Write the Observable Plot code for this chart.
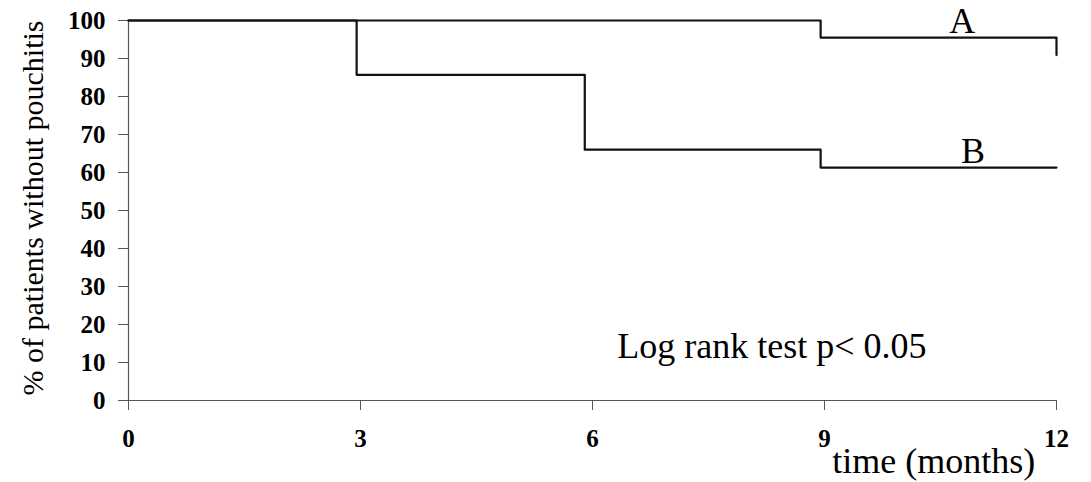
<!DOCTYPE html>
<html>
<head>
<meta charset="utf-8">
<script src="https://cdn.jsdelivr.net/npm/d3@7"></script>
<script src="https://cdn.jsdelivr.net/npm/@observablehq/plot@0.6"></script>
<style>
  html, body { margin: 0; padding: 0; background: #fff; }
  #chart svg { display: block; }
  #chart svg, #chart svg text { font-family: "Liberation Serif", "Times New Roman", serif !important; }
</style>
</head>
<body>
<div id="chart"></div>
<script>
// Kaplan–Meier curves: proportion of patients without pouchitis over 12 months
const timeA = [0, 8.95, 12, 12];
const survA = [100, 95.5, 95.5, 90.9];
const timeB = [0, 2.95, 5.9, 8.95, 12];
const survB = [100, 85.7, 66, 61.3, 61.3];

const xTicks = [0, 3, 6, 9, 12];
const yTicks = [0, 10, 20, 30, 40, 50, 60, 70, 80, 90, 100];

const groupLabels = ["A", "B"];
const yTitle = "% of patients without pouchitis";
const xTitle = "time (months)";
const testNote = "Log rank test p< 0.05";

const rows = (ts, ss) => ts.map((t, i) => ({t, s: ss[i]}));
const serif = "Liberation Serif";

const chart = Plot.plot({
  width: 1091,
  height: 482,
  marginLeft: 128,
  marginRight: 35,
  marginTop: 20,
  marginBottom: 82,
  x: {domain: [0, 12]},
  y: {domain: [0, 100]},
  style: {fontFamily: serif, background: "#fff", color: "#000"},
  marks: [
    Plot.axisY(yTicks, {
      tickSize: 10, tickPadding: 13, fontSize: 25, fontWeight: "bold", fontFamily: serif,
      stroke: "#555", fill: "#000", label: null
    }),
    Plot.axisX(xTicks, {
      tickSize: 10, tickPadding: 19, fontSize: 25, fontWeight: "bold", fontFamily: serif,
      stroke: "#555", fill: "#000", label: null
    }),
    Plot.ruleX([0], {y1: 0, y2: 100, stroke: "#555", strokeWidth: 1.2}),
    Plot.ruleY([0], {x1: 0, x2: 12, stroke: "#555", strokeWidth: 1.2}),
    Plot.line(rows(timeA, survA), {x: "t", y: "s", curve: "step-after", stroke: "#111", strokeWidth: 2.2}),
    Plot.line(rows(timeB, survB), {x: "t", y: "s", curve: "step-after", stroke: "#111", strokeWidth: 2.2}),
    Plot.text([groupLabels[0]], {x: 10.78, y: 96.8, text: d => d, fontSize: 36, fontFamily: serif, textAnchor: "middle", lineAnchor: "bottom", fill: "#000"}),
    Plot.text([groupLabels[1]], {x: 10.92, y: 62.6, text: d => d, fontSize: 36, fontFamily: serif, textAnchor: "middle", lineAnchor: "bottom", fill: "#000"}),
    Plot.text([testNote], {x: 6.32, y: 11.3, text: d => d, fontSize: 36, fontFamily: serif, textAnchor: "start", lineAnchor: "bottom", fill: "#000"}),
    Plot.text([xTitle], {x: 9.1, y: -19.2, text: d => d, fontSize: 36, fontFamily: serif, textAnchor: "start", lineAnchor: "bottom", fill: "#000"}),
    Plot.text([yTitle], {x: -1.1, y: 50.66, text: d => d, fontSize: 30, fontFamily: serif, rotate: -90, textAnchor: "middle", lineAnchor: "bottom", fill: "#000"})
  ]
});

document.getElementById("chart").appendChild(chart);
</script>
</body>
</html>
